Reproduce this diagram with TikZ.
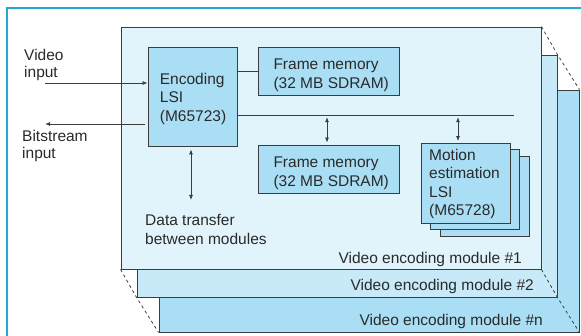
\documentclass[tikz,border=0pt]{standalone}
\usepackage{fontspec}
\setmainfont{Liberation Sans}
\usetikzlibrary{arrows.meta}
\pgfdeclarelayer{behind}
\pgfsetlayers{behind,main}
\definecolor{frameblue}{HTML}{25A9D3}
\definecolor{modA}{HTML}{E1F3FB}
\definecolor{modB}{HTML}{C8EAF8}
\definecolor{modC}{HTML}{A9DEF5}
\definecolor{edge}{HTML}{3C3C3C}
\definecolor{ink}{HTML}{2A2A2A}
\begin{document}
\begin{tikzpicture}[x=1pt,y=-1pt,
  module/.style={draw=edge, line width=0.9pt, minimum width=420pt, minimum height=242pt, inner sep=0pt},
  chip/.style={draw=edge, line width=0.9pt, fill=modC, inner sep=0pt},
  txt/.style={text=ink, font=\fontsize{15.5}{18.5}\selectfont, align=left, inner sep=0pt},
  link/.style={draw=edge, line width=0.8pt},
  tip/.style={-{Latex[length=5pt,width=4pt]}},
  tips/.style={{Latex[length=5pt,width=4pt]}-{Latex[length=5pt,width=4pt]}},
  guide/.style={draw=edge, line width=0.8pt, dash pattern=on 3pt off 3pt}
]
\useasboundingbox (0,0) rectangle (581,336);

% outer frame, open to the right and bottom
\draw[frameblue, line width=1.2pt] (7,345) -- (7,8) -- (595,8);

% stacked encoding modules
\node[module, fill=modA] (mod1) at (331,148) {};
\begin{pgfonlayer}{behind}
  \node[module, fill=modC] (modn) at (369,211) {};
  \node[module, fill=modB] (mod2) at (347,176) {};
  \draw[guide] (mod1.north east) -- (mod2.north east) -- (modn.north east);
  \draw[guide] (mod1.south east) -- (mod2.south east) -- (modn.south east);
  \draw[guide] (mod1.south west) -- (mod2.south west) -- (modn.south west);
\end{pgfonlayer}

\node[txt, anchor=base east] (lab1) at (522,263.7) {Video encoding module \#1};
\node[txt, anchor=base east] (lab2) at (534,290.7) {Video encoding module \#2};
\node[txt, anchor=base east] (labn) at (543,325.7) {Video encoding module \#n};

% chips on module #1
\node[chip, minimum width=89pt, minimum height=99pt] (enc) at (192.5,96.5) {};
\node[chip, minimum width=141pt, minimum height=48pt] (fm1) at (328.5,71) {};
\node[chip, minimum width=141pt, minimum height=48pt] (fm2) at (328.5,169) {};
\node[chip, minimum width=89pt, minimum height=80pt] (me3) at (484.5,196) {};
\node[chip, minimum width=89pt, minimum height=80pt] (me2) at (475,189.5) {};
\node[chip, minimum width=89pt, minimum height=80pt] (me1) at (465.5,183) {};

% multi-line texts are placed by the baseline of their last line
\node[txt, anchor=base west] (enct) at (159.7,121.3) {Encoding\\LSI\\(M65723)};
\node[txt, anchor=base west] (fm1t) at (273.3,88.3) {Frame memory\\(32 MB SDRAM)};
\node[txt, anchor=base west] (fm2t) at (273.3,186.3) {Frame memory\\(32 MB SDRAM)};
\node[txt, font=\fontsize{15.5}{18.2}\selectfont, anchor=base west] (met) at (429,215.3) {Motion\\estimation\\LSI\\(M65728)};

% outside labels
\node[txt, font=\fontsize{15.5}{17}\selectfont, anchor=base west] (vint) at (24,77.7) {Video\\input};
\node[txt, font=\fontsize{15.5}{16.5}\selectfont, anchor=base west] (bint) at (22,158.3) {Bitstream\\input};
\node[txt, font=\fontsize{15.5}{19}\selectfont, anchor=base west] (dtt) at (145,245) {Data transfer\\between modules};

% connectors
\coordinate (vin) at (45,83);
\coordinate (bout) at (45,124);
\coordinate (busend) at (514,115.7);
\coordinate (busA) at (327,115.7);
\coordinate (busB) at (458,115.7);
\coordinate (dt) at (191,200);

\draw[link] (fm1.west) -- (fm1.west -| enc.east);
\draw[link] (enc.east |- busend) -- (busend);
\draw[link, tips, shorten <=1.5pt, shorten >=2pt] (busA) -- (busA |- fm2.north);
\draw[link, tips, shorten <=1.5pt, shorten >=1.5pt] (busB) -- (busB |- me1.north);
\draw[link, tip] (vin) -- (vin -| enc.west);
\draw[link, tip, shorten <=3pt] (bout -| enc.west) -- (bout);
\draw[link, tips, shorten <=3pt] (dt |- enc.south) -- (dt);
\end{tikzpicture}
\end{document}
